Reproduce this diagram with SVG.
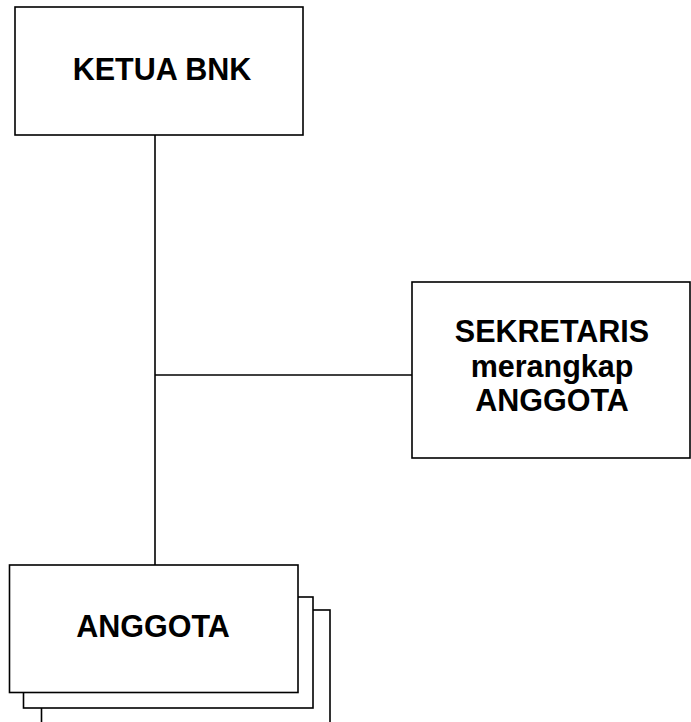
<svg xmlns="http://www.w3.org/2000/svg" width="691" height="722" viewBox="0 0 691 722">
<style>
.box{fill:#fff;stroke:#000;stroke-width:1.6}
.ln{stroke:#000;stroke-width:1.6;fill:none}
.t{font-family:"Liberation Sans",Arial,sans-serif;font-weight:bold;font-size:30.5px;fill:#000;text-anchor:middle}
</style>
<rect width="691" height="722" fill="#fff"/>
<g id="connectors">
<line class="ln" x1="155" y1="135" x2="155" y2="565"/>
<line class="ln" x1="155" y1="375" x2="412" y2="375"/>
</g>
<g id="ketua">
<rect class="box" x="15" y="7" width="288" height="128"/>
<text class="t" x="162" y="80">KETUA BNK</text>
</g>
<g id="sekretaris">
<rect class="box" x="412" y="282" width="278" height="176"/>
<text class="t" x="552" y="342">SEKRETARIS</text>
<text class="t" x="552" y="377">merangkap</text>
<text class="t" x="552" y="411">ANGGOTA</text>
</g>
<g id="anggota">
<rect class="box" x="41.5" y="610" width="288.5" height="130"/>
<rect class="box" x="23.5" y="597" width="289.5" height="111"/>
<rect class="box" x="9.5" y="565" width="288.5" height="127.5"/>
<text class="t" x="153" y="637">ANGGOTA</text>
</g>
</svg>
